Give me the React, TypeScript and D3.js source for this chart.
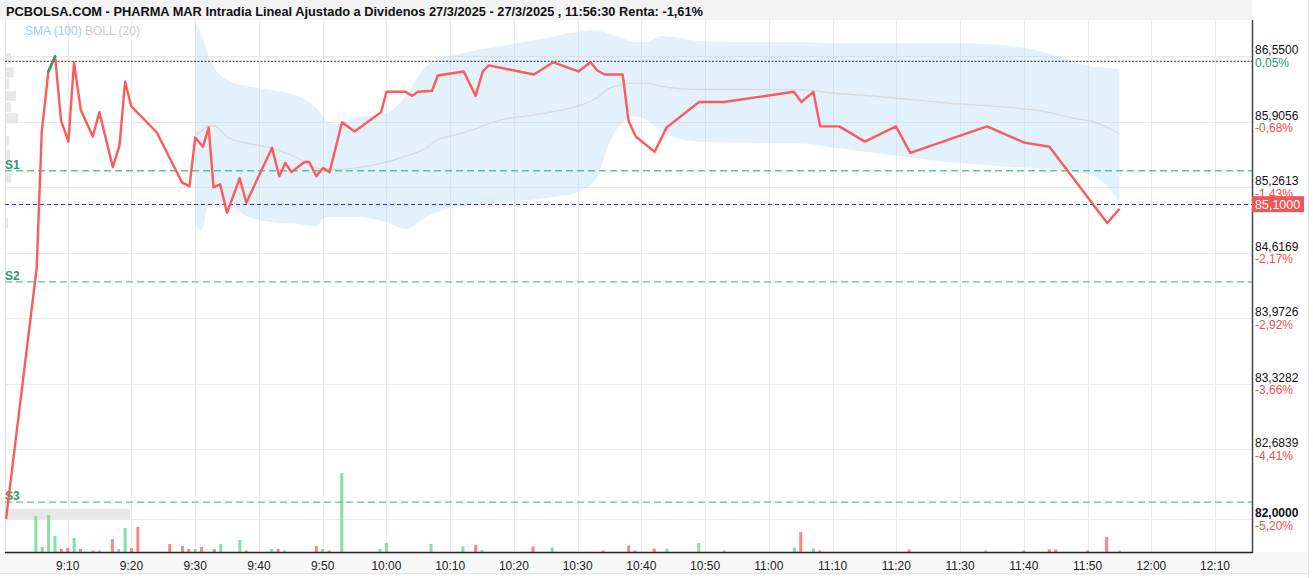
import * as d3 from 'd3'
import { useEffect, useRef } from 'react'

const title =
    'PCBOLSA.COM - PHARMA MAR Intradia Lineal Ajustado a Dividenos 27/3/2025 - 27/3/2025 , 11:56:30 Renta: -1,61%'

// intraday price line
const priceTimes = [
    '9:00:19', '9:05:08', '9:05:55', '9:06:58', '9:08:01', '9:08:57', '9:10:06', '9:10:59', '9:12:03', '9:13:56',
    '9:14:58', '9:17:04', '9:18:07', '9:19:00', '9:19:57', '9:23:59', '9:27:55', '9:29:06', '9:30:00', '9:31:13',
    '9:32:07', '9:32:52', '9:33:55', '9:34:59', '9:36:59', '9:38:01', '9:42:03', '9:43:11', '9:44:08', '9:45:05',
    '9:47:07', '9:47:54', '9:49:00', '9:50:04', '9:51:05', '9:53:02', '9:55:00', '9:59:10', '10:00:00', '10:02:59',
    '10:04:02', '10:04:55', '10:07:10', '10:08:03', '10:12:08', '10:13:59', '10:15:07', '10:16:04', '10:23:08', '10:26:11',
    '10:30:07', '10:32:02', '10:33:05', '10:34:14', '10:37:04', '10:38:00', '10:39:07', '10:42:05', '10:43:58', '10:49:03',
    '10:52:58', '11:03:55', '11:05:06', '11:06:59', '11:08:03', '11:11:02', '11:15:04', '11:19:56', '11:22:11', '11:34:14',
    '11:40:05', '11:44:01', '11:53:05', '11:55:01',
]
const prices = [
    82.0, 84.47, 85.8, 86.4, 86.55, 85.92, 85.71, 86.49, 86.02, 85.76,
    86.0, 85.46, 85.67, 86.3, 86.06, 85.8, 85.31, 85.27, 85.75, 85.66,
    85.85, 85.26, 85.29, 85.01, 85.35, 85.11, 85.65, 85.37, 85.5, 85.41,
    85.51, 85.51, 85.37, 85.45, 85.41, 85.9, 85.81, 86.0, 86.2, 86.2,
    86.16, 86.2, 86.21, 86.36, 86.4, 86.16, 86.4, 86.46, 86.37, 86.49,
    86.4, 86.49, 86.41, 86.37, 86.37, 85.91, 85.76, 85.61, 85.85, 86.1,
    86.1, 86.2, 86.1, 86.2, 85.86, 85.86, 85.71, 85.86, 85.6, 85.86,
    85.7, 85.66, 84.91, 85.05,
]

// bollinger band (20)
const bandTimes = [
    '9:30:00', '9:31:00', '9:32:00', '9:33:00', '9:35:00', '9:38:00', '9:42:00', '9:46:00', '9:49:00', '9:50:30',
    '9:52:00', '9:55:00', '10:00:00', '10:03:00', '10:06:00', '10:08:00', '10:12:00', '10:18:00', '10:25:00', '10:30:00',
    '10:33:00', '10:35:00', '10:37:00', '10:39:00', '10:41:00', '10:43:00', '10:45:00', '10:49:00', '10:55:00', '11:05:00',
    '11:10:00', '11:18:00', '11:28:00', '11:38:00', '11:43:00', '11:48:00', '11:51:00', '11:53:00', '11:55:00',
]
const bandUpper = [
    86.886, 86.758, 86.562, 86.434, 86.316, 86.257, 86.218, 86.159, 86.041, 85.923,
    85.883, 85.942, 85.991, 86.159, 86.434, 86.513, 86.581, 86.65, 86.729, 86.788,
    86.808, 86.768, 86.729, 86.69, 86.69, 86.749, 86.739, 86.7, 86.69, 86.69,
    86.68, 86.68, 86.68, 86.65, 86.591, 86.493, 86.444, 86.434, 86.424,
]
const bandMiddle = [
    85.775, 85.814, 85.864, 85.864, 85.755, 85.696, 85.647, 85.549, 85.45, 85.441,
    85.436, 85.45, 85.509, 85.569, 85.638, 85.726, 85.795, 85.923, 85.991, 86.06,
    86.139, 86.237, 86.267, 86.286, 86.282, 86.257, 86.237, 86.224, 86.224, 86.218,
    86.188, 86.149, 86.09, 86.045, 86.011, 85.937, 85.903, 85.853, 85.784,
]
const bandLower = [
    84.89, 84.841, 85.087, 85.136, 85.106, 84.978, 84.919, 84.9, 84.88, 84.969,
    84.969, 84.969, 84.919, 84.85, 84.959, 85.018, 85.077, 85.106, 85.156, 85.215,
    85.353, 85.706, 85.893, 85.962, 85.913, 85.825, 85.755, 85.709, 85.701, 85.691,
    85.652, 85.588, 85.509, 85.46, 85.446, 85.417, 85.372, 85.273, 85.119,
]

// volume per minute
const volumeTimes = [
    '9:05', '9:06', '9:07', '9:08', '9:09', '9:10', '9:11', '9:12', '9:14', '9:15', '9:17', '9:18', '9:19', '9:20', '9:21',
    '9:26', '9:28', '9:29', '9:30', '9:31', '9:33', '9:34', '9:37', '9:38',
    '9:42', '9:43', '9:44', '9:49', '9:50', '9:51', '9:53', '9:59',
    '10:00', '10:07', '10:12', '10:14', '10:15', '10:23', '10:26', '10:34', '10:38', '10:39', '10:42', '10:44', '10:49', '10:53',
    '11:04', '11:05', '11:07', '11:08', '11:22', '11:34', '11:40', '11:44', '11:45', '11:50', '11:53', '11:55',
]
const volumes = [
    3600, 500, 3700, 1600, 300, 400, 1400, 300, 150, 150, 1300, 300, 2400, 400, 2500,
    800, 600, 300, 300, 500, 300, 800, 1200, 150,
    300, 300, 150, 600, 300, 150, 7900, 300,
    900, 800, 550, 700, 200, 550, 450, 150, 650, 150, 350, 350, 900, 150,
    450, 2000, 350, 150, 250, 150, 150, 250, 250, 150, 1500, 150,
]
const volumeUp = [
    1, 1, 1, 1, 0, 0, 1, 0, 0, 1, 0, 1, 1, 0, 0,
    0, 0, 0, 1, 0, 0, 1, 1, 0,
    1, 0, 1, 0, 1, 0, 1, 1,
    1, 1, 1, 0, 1, 0, 1, 0, 0, 0, 0, 1, 1, 1,
    1, 0, 1, 0, 0, 1, 0, 0, 0, 0, 0, 1,
]

// volume at price
const profilePrices = [86.53, 86.39, 86.28, 86.16, 86.05, 85.94, 85.72, 85.58, 85.35, 84.91, 82.05]
const profileVolumes = [500, 770, 330, 1000, 500, 1200, 330, 400, 500, 200, 12400]

const yTicks = [86.55, 85.9056, 85.2613, 84.6169, 83.9726, 83.3282, 82.6839, 82.0]
const yTickPct = ['0,05%', '-0,68%', '-1,43%', '-2,17%', '-2,92%', '-3,66%', '-4,41%', '-5,20%']
const xTickLabels = [
    '9:10', '9:20', '9:30', '9:40', '9:50', '10:00', '10:10', '10:20', '10:30', '10:40',
    '10:50', '11:00', '11:10', '11:20', '11:30', '11:40', '11:50', '12:00', '12:10',
]

const supportNames = ['S1', 'S2', 'S3']
const supportLevels = [85.424, 84.332, 82.166]
const prevClose = 86.5
const lastPrice = 85.1

const FONT = "'Liberation Sans', Arial, sans-serif"
const fmt = (v: number) => v.toFixed(4).replace('.', ',')

export default function App() {
    const svgRef = useRef<SVGSVGElement>(null)

    useEffect(() => {
        if (!svgRef.current) return
        const svg = d3.select(svgRef.current)
        svg.selectAll('*').remove()

        const left = 5
        const right = 1252
        const top = 20
        const bottom = 552

        const parse = d3.timeParse('%H:%M:%S')
        const parseHM = d3.timeParse('%H:%M')

        const x = d3
            .scaleTime()
            .domain([parse('9:00:00')!, parse('12:15:48')!])
            .range([4, right])
        const y = d3.scaleLinear().domain([82, 86.55]).range([519, 56.2])
        const vScale = d3
            .scaleLinear()
            .domain([0, d3.max(volumes) as number])
            .range([0, 79])
        const pScale = d3
            .scaleLinear()
            .domain([0, d3.max(profileVolumes) as number])
            .range([0, 124])

        // title bar
        svg.append('rect').attr('x', 0).attr('y', 0).attr('width', right).attr('height', top).attr('fill', '#f3f3f3')
        svg.append('text')
            .attr('x', 6)
            .attr('y', 16)
            .attr('font-family', FONT)
            .attr('font-weight', 'bold')
            .attr('font-size', 12.5)
            .attr('fill', '#111')
            .attr('textLength', 697)
            .attr('lengthAdjust', 'spacingAndGlyphs')
            .text(title)

        // x axis band
        svg.append('rect').attr('x', 0).attr('y', bottom).attr('width', 1308).attr('height', 21).attr('fill', '#f7f7f7')
        svg.append('line').attr('x1', 0).attr('x2', 1308).attr('y1', 573.5).attr('y2', 573.5).attr('stroke', '#e6e6e6')
        svg.append('line').attr('x1', 1308.5).attr('x2', 1308.5).attr('y1', 0).attr('y2', 578).attr('stroke', '#e4e4e4')

        // grid
        const grid = svg.append('g').attr('stroke', '#ebebeb').attr('stroke-width', 1)
        xTickLabels.forEach((t) => {
            const xx = Math.round(x(parseHM(t)!)) + 0.5
            grid.append('line').attr('x1', xx).attr('x2', xx).attr('y1', top).attr('y2', bottom)
        })
        yTicks.forEach((v) => {
            const yy = Math.round(y(v)) + 0.5
            grid.append('line').attr('x1', left).attr('x2', right).attr('y1', yy).attr('y2', yy)
        })
        svg.append('line')
            .attr('x1', left + 0.5)
            .attr('x2', left + 0.5)
            .attr('y1', top)
            .attr('y2', bottom)
            .attr('stroke', '#e2e2e2')

        // volume profile
        profilePrices.forEach((p, i) => {
            svg.append('rect')
                .attr('x', left + 1)
                .attr('y', y(p + 0.05))
                .attr('width', pScale(profileVolumes[i]))
                .attr('height', y(p - 0.05) - y(p + 0.05))
                .attr('fill', '#e8e8e8')
        })

        // bollinger band
        const band = bandTimes.map((t, i) => ({
            t: parse(t)!,
            hi: bandUpper[i],
            mid: bandMiddle[i],
            lo: bandLower[i],
        }))
        const area = d3
            .area<(typeof band)[0]>()
            .x((d) => x(d.t))
            .y0((d) => y(d.lo))
            .y1((d) => y(d.hi))
            .curve(d3.curveMonotoneX)
        svg.append('path').datum(band).attr('d', area).attr('fill', '#9fd2f5').attr('fill-opacity', 0.3)
        const mid = d3
            .line<(typeof band)[0]>()
            .x((d) => x(d.t))
            .y((d) => y(d.mid))
            .curve(d3.curveMonotoneX)
        svg.append('path').datum(band).attr('d', mid).attr('fill', 'none').attr('stroke', '#d9d9d9').attr('stroke-width', 1.3)

        // volume bars
        volumeTimes.forEach((t, i) => {
            const h = Math.max(1.5, vScale(volumes[i]))
            svg.append('rect')
                .attr('x', x(parseHM(t)!) - 1.5)
                .attr('y', bottom - h)
                .attr('width', 3)
                .attr('height', h)
                .attr('fill', volumeUp[i] ? '#86e0a8' : '#ff8585')
        })

        // reference lines
        supportLevels.forEach((lvl, i) => {
            svg.append('line')
                .attr('x1', left)
                .attr('x2', right)
                .attr('y1', y(lvl))
                .attr('y2', y(lvl))
                .attr('stroke', '#5cc49a')
                .attr('stroke-width', 1.3)
                .attr('stroke-dasharray', '7,4')
            svg.append('text')
                .attr('x', left)
                .attr('y', y(lvl) - 2)
                .attr('font-family', FONT)
                .attr('font-weight', 'bold')
                .attr('font-size', 12)
                .attr('fill', '#2a9a6a')
                .text(supportNames[i])
        })
        svg.append('line')
            .attr('x1', left)
            .attr('x2', right)
            .attr('y1', y(prevClose))
            .attr('y2', y(prevClose))
            .attr('stroke', '#333')
            .attr('stroke-width', 1)
            .attr('stroke-dasharray', '2,1.5')
        svg.append('line')
            .attr('x1', left)
            .attr('x2', right)
            .attr('y1', Math.round(y(lastPrice)) + 0.5)
            .attr('y2', Math.round(y(lastPrice)) + 0.5)
            .attr('stroke', '#2c2cff')
            .attr('stroke-width', 1)
            .attr('stroke-dasharray', '4,3')

        // price line
        const pts = priceTimes.map((t, i) => ({ t: parse(t)!, p: prices[i] }))
        const line = d3
            .line<(typeof pts)[0]>()
            .x((d) => x(d.t))
            .y((d) => y(d.p))
        svg.append('path')
            .datum(pts)
            .attr('d', line)
            .attr('fill', 'none')
            .attr('stroke', '#ff5a5a')
            .attr('stroke-width', 2.4)
            .attr('stroke-linejoin', 'round')
        // segments that close above the previous close
        pts.forEach((d, i) => {
            if (i === 0 || d.p <= prevClose) return
            svg.append('path')
                .datum([pts[i - 1], d])
                .attr('d', line)
                .attr('fill', 'none')
                .attr('stroke', '#2e9e6b')
                .attr('stroke-width', 2.4)
                .attr('stroke-linecap', 'round')
        })

        // axes
        svg.append('line')
            .attr('x1', right + 0.5)
            .attr('x2', right + 0.5)
            .attr('y1', top)
            .attr('y2', bottom + 1)
            .attr('stroke', '#444')
            .attr('stroke-width', 1.5)
        svg.append('line')
            .attr('x1', left)
            .attr('x2', right + 1)
            .attr('y1', bottom + 0.5)
            .attr('y2', bottom + 0.5)
            .attr('stroke', '#222')
            .attr('stroke-width', 1.5)

        xTickLabels.forEach((t) => {
            svg.append('text')
                .attr('x', x(parseHM(t)!))
                .attr('y', 569.5)
                .attr('text-anchor', 'middle')
                .attr('font-family', FONT)
                .attr('font-size', 12)
                .attr('fill', '#222')
                .text(t)
        })

        yTicks.forEach((v, i) => {
            const yy = y(v)
            svg.append('text')
                .attr('x', right + 3)
                .attr('y', yy - 2)
                .attr('font-family', FONT)
                .attr('font-size', 12)
                .attr('font-weight', i === yTicks.length - 1 ? 'bold' : 'normal')
                .attr('fill', '#111')
                .text(fmt(v))
            svg.append('text')
                .attr('x', right + 3)
                .attr('y', yy + 10.5)
                .attr('font-family', FONT)
                .attr('font-size', 12)
                .attr('fill', yTickPct[i].startsWith('-') ? '#f05050' : '#1e9e6a')
                .text(yTickPct[i])
        })

        // last price tag
        const ly = y(lastPrice)
        svg.append('rect')
            .attr('x', right)
            .attr('y', ly - 7.5)
            .attr('width', 52)
            .attr('height', 16)
            .attr('fill', '#f25555')
        svg.append('text')
            .attr('x', right + 3)
            .attr('y', ly + 5)
            .attr('font-family', FONT)
            .attr('font-size', 12.5)
            .attr('fill', '#fff')
            .text(fmt(lastPrice))

        // indicator legend
        const legend = svg.append('text').attr('x', 25).attr('y', 35).attr('font-family', FONT).attr('font-size', 12)
        legend.append('tspan').attr('fill', '#9ccdf3').text('SMA (100) ')
        legend.append('tspan').attr('fill', '#cccccc').text('BOLL (20)')
    }, [])

    return (
        <svg
            ref={svgRef}
            width={1313}
            height={578}
            style={{ position: 'absolute', left: 0, top: 0, background: '#fff' }}
        />
    )
}
